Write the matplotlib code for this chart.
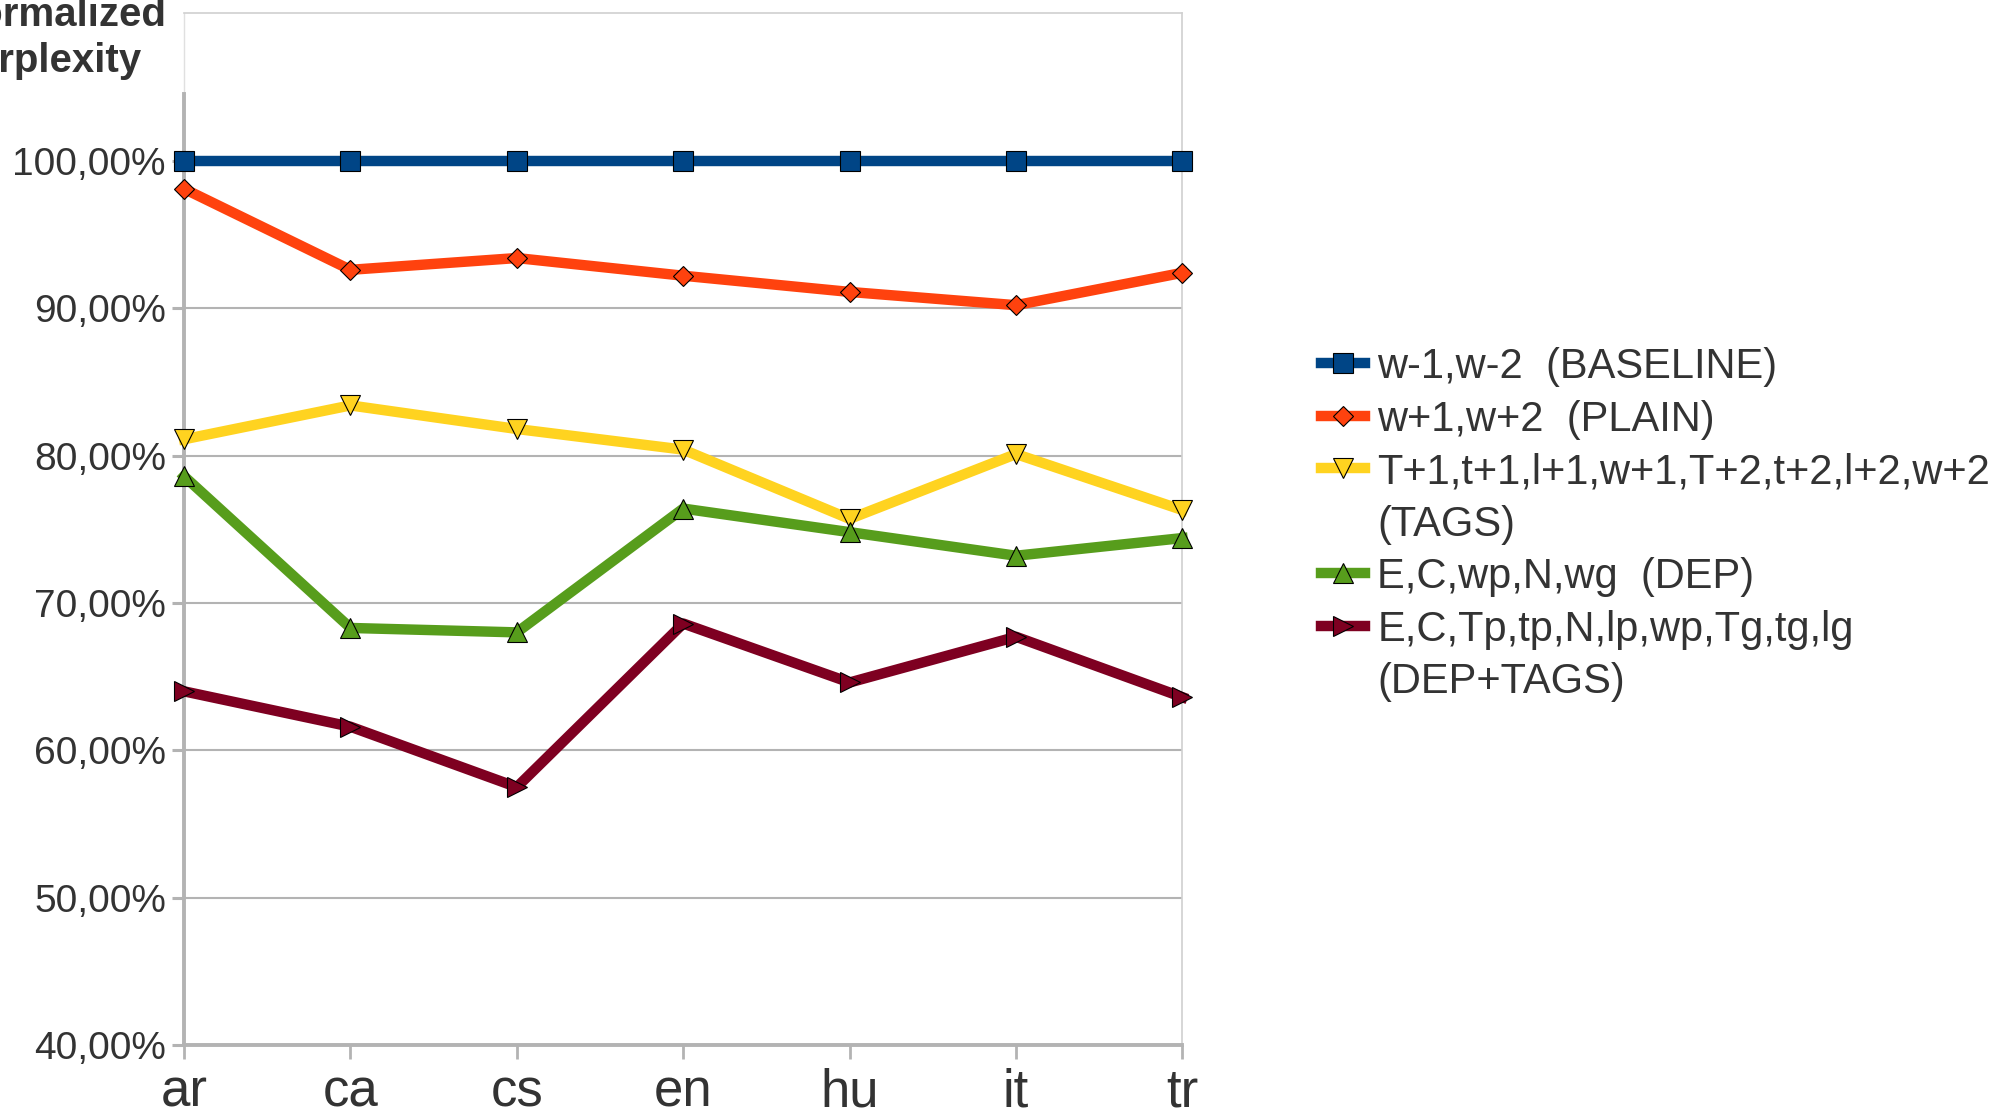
import numpy as np
import matplotlib.pyplot as plt
from matplotlib.lines import Line2D
from matplotlib.ticker import FuncFormatter

plt.rcParams['font.family'] = ['Liberation Sans', 'DejaVu Sans']

langs = ['ar', 'ca', 'cs', 'en', 'hu', 'it', 'tr']
baseline = [100.0, 100.0, 100.0, 100.0, 100.0, 100.0, 100.0]
plain = [98.1, 92.6, 93.4, 92.2, 91.1, 90.2, 92.4]
tags = [81.1, 83.4, 81.8, 80.4, 75.7, 80.1, 76.3]
dep = [78.6, 68.3, 68.0, 76.4, 74.8, 73.2, 74.4]
dep_tags = [64.0, 61.6, 57.5, 68.6, 64.6, 67.7, 63.6]

series = [baseline, plain, tags, dep, dep_tags]
names = ['w-1,w-2  (BASELINE)', 'w+1,w+2  (PLAIN)',
         'T+1,t+1,l+1,w+1,T+2,t+2,l+2,w+2', 'E,C,wp,N,wg  (DEP)',
         'E,C,Tp,tp,N,lp,wp,Tg,tg,lg']
extra = {2: '(TAGS)', 4: '(DEP+TAGS)'}
colors = ['#004586', '#ff420e', '#ffd320', '#579d1c', '#7e0021']
markers = ['s', 'D', 'v', '^', '>']
msizes = [14, 10, 14, 14, 14]

txt = '#333333'
gray = '#b3b3b3'

fig = plt.figure(figsize=(20.11, 11.16), dpi=100)
ax = fig.add_axes([0.0915, 0.0636, 0.4965, 0.9244])

x = np.arange(len(langs))
handles = []
labels = []
for i, s in enumerate(series):
    ln, = ax.plot(x, s, color=colors[i], lw=7.5, marker=markers[i], ms=msizes[i],
                  mfc=colors[i], mec='black', mew=0.8, clip_on=False, zorder=3)
    handles.append(ln)
    labels.append(names[i])
    if i in extra:
        handles.append(Line2D([], [], color='none'))
        labels.append(extra[i])

ax.set_xlim(0, 6)
ax.set_ylim(40, 110)
ax.set_yticks(range(40, 101, 10))
ax.yaxis.set_major_formatter(FuncFormatter(lambda v, p: f'{v:.2f}%'.replace('.', ',')))
ax.set_xticks(x)
ax.set_xticklabels(langs)
ax.yaxis.grid(True, color=gray, lw=1.5)
ax.set_axisbelow(True)

ax.tick_params(axis='y', direction='out', length=9, width=2.2, color=gray,
               labelsize=28, labelcolor=txt, pad=4)
ax.tick_params(axis='x', direction='out', length=10, width=2, color=gray,
               labelsize=38, labelcolor=txt, pad=6)

ax.spines['left'].set_color(gray)
ax.spines['left'].set_linewidth(2.8)
ax.spines['left'].set_bounds(40, 104.5)
ax.spines['bottom'].set_color(gray)
ax.spines['bottom'].set_linewidth(2.8)
for sp in ['top', 'right']:
    ax.spines[sp].set_color('#d0d0d0')
    ax.spines[sp].set_linewidth(1.2)
ax.plot([0, 0], [104.5, 110], color='#e0e0e0', lw=1, clip_on=False, zorder=1)

fig.text(-0.0254, 1 - 26 / 1116, 'Normalized', ha='left', va='baseline',
         fontsize=29, weight='bold', color=txt)
fig.text(-0.0254, 1 - 72 / 1116, 'Perplexity', ha='left', va='baseline',
         fontsize=29, weight='bold', color=txt)

leg = ax.legend(handles, labels, loc='upper left', bbox_to_anchor=(0.657, 0.689),
                bbox_transform=fig.transFigure, frameon=False, fontsize=30,
                handlelength=1.05, handletextpad=0.3, labelspacing=0.3,
                borderpad=0, borderaxespad=0)
for t in leg.get_texts():
    t.set_color(txt)

plt.savefig('out.png', dpi=100)
